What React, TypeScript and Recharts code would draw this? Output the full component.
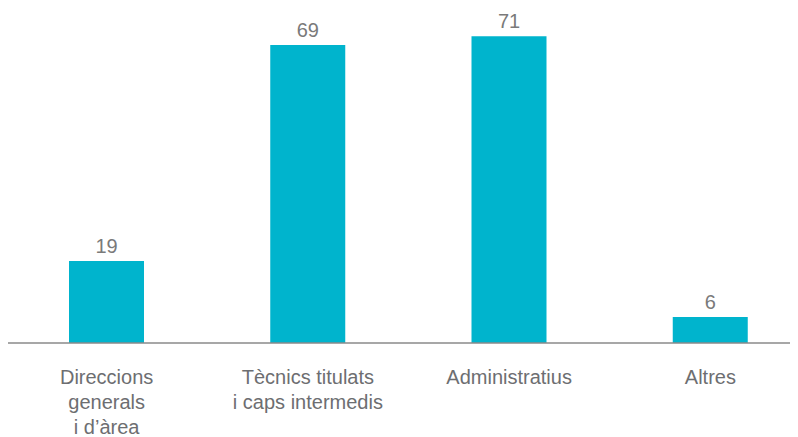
import { Bar, BarChart, LabelList, XAxis, YAxis } from "recharts";

const categories = [
  "Direccions\ngenerals\ni d’àrea",
  "Tècnics titulats\ni caps intermedis",
  "Administratius",
  "Altres",
];
const values = [19, 69, 71, 6];

const data = categories.map((name, i) => ({ name, value: values[i] }));

const textGray = "#6d6e71";
const font = "'Liberation Sans', Arial, sans-serif";

function CategoryTick(props: any) {
  const { x, y, payload } = props;
  const lines = String(payload.value).split("\n");
  return (
    <text
      x={x}
      y={y}
      textAnchor="middle"
      fill={textGray}
      fontSize={20}
      fontFamily={font}
    >
      {lines.map((line, i) => (
        <tspan key={i} x={x} dy={i === 0 ? 41 : 25}>
          {line}
        </tspan>
      ))}
    </text>
  );
}

export default function App() {
  const margin = { top: 11, right: -13, left: -2, bottom: 0 };
  return (
    <div style={{ width: 790, height: 429, fontFamily: font }}>
      <BarChart width={790} height={429} data={data} margin={margin}>
        <XAxis
          dataKey="name"
          height={94}
          interval={0}
          tickLine={false}
          tickSize={0}
          tickMargin={0}
          axisLine={{ stroke: "#8a8a8a", strokeWidth: 1.5 }}
          tick={<CategoryTick />}
        />
        <YAxis hide domain={[0, 75]} />
        <Bar
          dataKey="value"
          fill="#00b4cd"
          barSize={75}
          isAnimationActive={false}
        >
          <LabelList
            dataKey="value"
            position="top"
            offset={8}
            fill="#7a7a7a"
            fontSize={20}
            fontFamily={font}
          />
        </Bar>
      </BarChart>
    </div>
  );
}
